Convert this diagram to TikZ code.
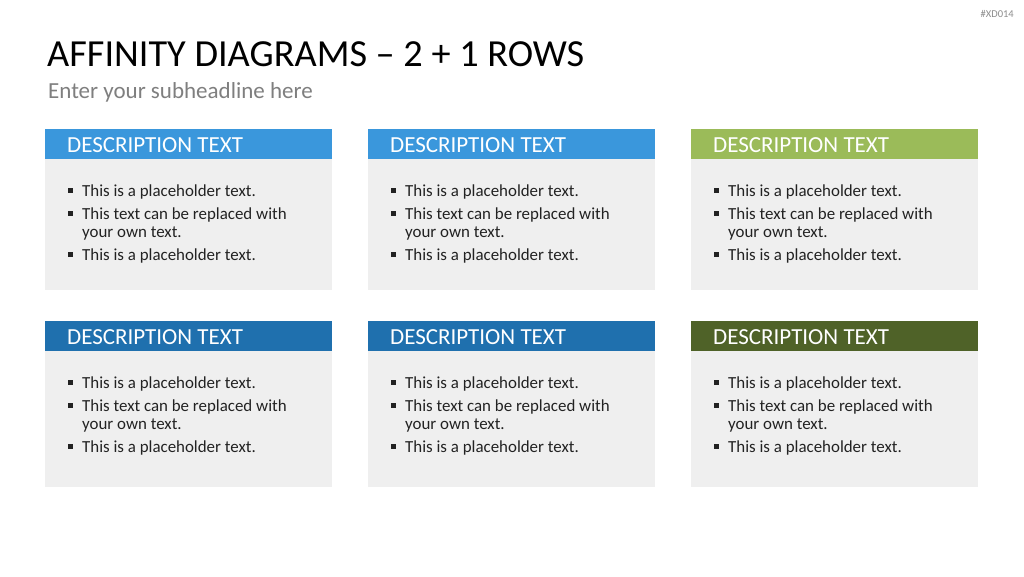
\documentclass[tikz,border=0pt]{standalone}
\usepackage{fontspec}
\setmainfont{Carlito}
\definecolor{blueA}{HTML}{3A97DC}
\definecolor{blueB}{HTML}{1F70AE}
\definecolor{greenA}{HTML}{9BBB59}
\definecolor{greenB}{HTML}{4F6228}
\definecolor{bodygray}{HTML}{EFEFEF}
\definecolor{subgray}{HTML}{7F7F7F}
\definecolor{tagcol}{HTML}{8C8C8C}
\definecolor{txt}{HTML}{222222}
\begin{document}
\begin{tikzpicture}[x=1pt,y=-1pt,
  hdr/.style={anchor=north west,minimum width=287pt,minimum height=30pt,inner sep=0pt,outer sep=0pt},
  bodybox/.style={anchor=north west,fill=bodygray,minimum width=287pt,inner sep=0pt,outer sep=0pt},
  hdrtext/.style={anchor=base west,text=white,font=\fontsize{23}{26}\selectfont,inner sep=0pt},
  item/.style={anchor=base west,text=txt,font=\fontsize{16.9}{19}\selectfont,inner sep=0pt,align=left},
  bul/.style={fill=txt,minimum size=5pt,inner sep=0pt,anchor=center}]
\useasboundingbox (0,0) rectangle (1024,576);
\fill[white] (0,0) rectangle (1024,576);
\node[anchor=base east,text=tagcol,font=\fontsize{10.5}{12}\selectfont,inner sep=0pt] (tag) at (1014,17) {\#XD014};
\node[anchor=base west,font=\fontsize{38.3}{42}\selectfont,inner sep=0pt] (title) at (47,66) {AFFINITY DIAGRAMS – 2 + 1 ROWS};
\node[anchor=base west,text=subgray,font=\fontsize{23}{26}\selectfont,inner sep=0pt] (sub) at (48,98) {Enter your subheadline here};
\foreach \x/\y/\c/\h/\n in {45/129/blueA/131/a,368/129/blueA/131/b,691/129/greenA/131/c,45/321/blueB/136/d,368/321/blueB/136/e,691/321/greenB/136/f}{
  \node[hdr,fill=\c] (h\n) at (\x,\y) {};
  \node[bodybox,minimum height=\h pt] (b\n) at (\x,\y+30) {};
  \node[hdrtext] (t\n) at (\x+22,\y+23.5) {DESCRIPTION TEXT};
  \node[bul] (p1\n) at (\x+25.5,\y+61) {};
  \node[item] (i1\n) at (\x+37,\y+67) {This is a placeholder text.};
  \node[bul] (p2\n) at (\x+25.5,\y+84) {};
  \node[item] (i2\n) at (\x+37,\y+90) {This text can be replaced with};
  \node[item] (i3\n) at (\x+37,\y+108) {your own text.};
  \node[bul] (p3\n) at (\x+25.5,\y+125) {};
  \node[item] (i4\n) at (\x+37,\y+131) {This is a placeholder text.};
}
\end{tikzpicture}
\end{document}
